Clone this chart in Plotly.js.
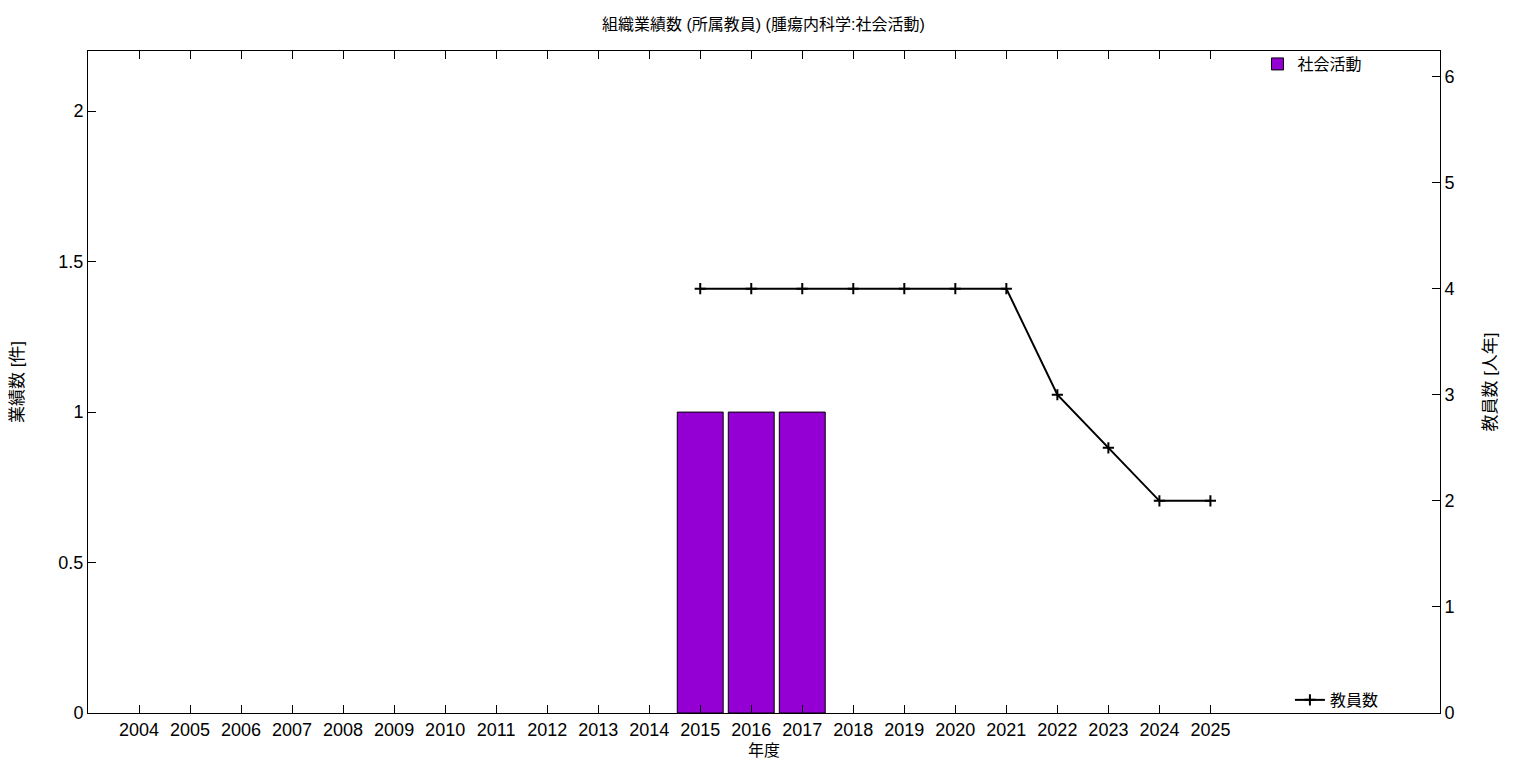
<!DOCTYPE html>
<html>
<head>
<meta charset="utf-8">
<script src="https://cdn.plot.ly/plotly-3.0.1.min.js"></script>
<style>html,body{margin:0;padding:0;background:#fff;}#chart{width:1536px;height:768px;}</style>
</head>
<body>
<div id="chart"></div>
<script>
const years = [2004,2005,2006,2007,2008,2009,2010,2011,2012,2013,2014,2015,2016,2017,2018,2019,2020,2021,2022,2023,2024,2025];
const barYears = [2015,2016,2017];
const barValues = [1,1,1];
const staffYears = [2015,2016,2017,2018,2019,2020,2021,2022,2023,2024,2025];
const staffValues = [4,4,4,4,4,4,4,3,2.5,2,2];
const leftTicks = [0,0.5,1,1.5,2];
const leftTickText = ['0','0.5','1','1.5','2'];
const rightTicks = [0,1,2,3,4,5,6];

const font = "Liberation Sans, Noto Sans CJK JP, sans-serif";

const traces = [
  {
    type: 'bar', x: barYears, y: barValues, name: '社会活動', width: 0.9,
    marker: {color: '#9400D3', line: {color: '#000', width: 1}},
    legend: 'legend', xaxis: 'x', yaxis: 'y'
  },
  {
    type: 'scatter', mode: 'lines+markers', x: staffYears, y: staffValues, name: '教員数',
    line: {color: '#000', width: 2},
    marker: {symbol: 'cross-thin', size: 8, color: '#000', line: {color: '#000', width: 2}},
    legend: 'legend2', xaxis: 'x', yaxis: 'y2'
  }
];

const layout = {
  width: 1536, height: 768,
  margin: {l: 88, r: 96, t: 51, b: 55},
  paper_bgcolor: '#fff', plot_bgcolor: '#fff',
  font: {family: font, size: 18, color: '#000'},
  title: {text: '組織業績数 (所属教員) (腫瘍内科学:社会活動)', font: {size: 16, family: font}, x: 0.497, xanchor: 'center', y: 0.968, yanchor: 'middle'},
  showlegend: true,
  xaxis: {
    range: [2003, 2029.5], tickvals: years, ticktext: years.map(String),
    ticks: 'inside', ticklen: 8, tickwidth: 1, tickcolor: '#000',
    showline: true, linecolor: '#000', linewidth: 1, mirror: 'ticks',
    showgrid: false, zeroline: false,
    tickfont: {size: 18},
    title: {text: '年度', font: {size: 16}, standoff: 6}
  },
  yaxis: {
    range: [0, 2.2], tickvals: leftTicks, ticktext: leftTickText,
    ticks: 'inside', ticklen: 8, tickcolor: '#000',
    showline: true, linecolor: '#000', linewidth: 1,
    showgrid: false, zeroline: false, tickfont: {size: 18},
    title: {text: '業績数 [件]', font: {size: 17}, standoff: 30}
  },
  yaxis2: {
    overlaying: 'y', side: 'right', range: [0, 6.24], tickvals: rightTicks,
    ticks: 'inside', ticklen: 8, tickcolor: '#000',
    showline: true, linecolor: '#000', linewidth: 1,
    showgrid: false, zeroline: false, tickfont: {size: 18},
    title: {text: '教員数 [人年]', font: {size: 17}, standoff: 30}
  },
  legend: {x: 0.865, y: 1.006, xanchor: 'left', yanchor: 'top', bgcolor: 'rgba(0,0,0,0)', font: {size: 16}},
  legend2: {x: 0.889, y: -0.006, xanchor: 'left', yanchor: 'bottom', bgcolor: 'rgba(0,0,0,0)', font: {size: 16}},
  bargap: 0.1
};

Plotly.newPlot('chart', traces, layout, {displayModeBar: false, staticPlot: true});
</script>
</body>
</html>
